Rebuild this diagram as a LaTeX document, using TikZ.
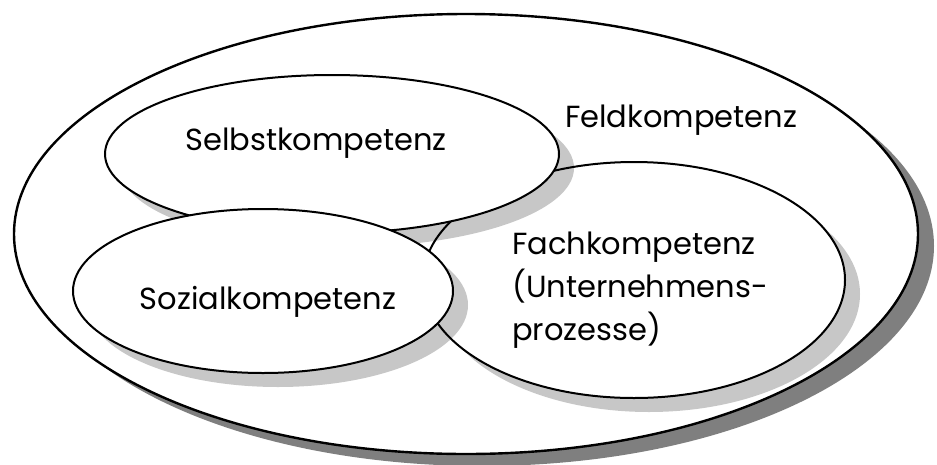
\documentclass[tikz,border=0pt]{standalone}
\usepackage{fontspec}
\setmainfont{Poppins}
\usetikzlibrary{shapes.geometric,shadows}

\begin{document}
\begin{tikzpicture}[x=1pt,y=-1pt,
    field node/.style={ellipse,draw,line width=2.4pt,fill=white,inner sep=0pt,
        drop shadow={shadow xshift=16pt,shadow yshift=-12pt,fill=black,opacity=0.5}},
    comp node/.style={ellipse,draw,line width=2pt,fill=white,inner sep=0pt,
        drop shadow={shadow xshift=15pt,shadow yshift=-14pt,fill=black,opacity=0.22}},
    text node/.style={inner sep=0pt,font=\fontsize{30.5}{43}\selectfont}]
        \useasboundingbox (0,0) rectangle (937,464);

        \node[field node,minimum width=904pt,minimum height=440pt] at (466,234) (feld) {};
        \node[comp node,minimum width=422pt,minimum height=236pt] at (634,280) (fach) {};
        \node[comp node,minimum width=454pt,minimum height=158pt] at (332,154) (selbst) {};
        \node[comp node,minimum width=380pt,minimum height=164pt] at (263,291) (sozial) {};

        \node[text node] at (681,120) (feldtext) {Feldkompetenz};
        \node[text node] at (316,143) (selbsttext) {Selbstkompetenz};
        \node[text node] at (268,302) (sozialtext) {Sozialkompetenz};
        \node[text node,align=left,anchor=north west] at (512,232) (fachtext)
            {Fachkompetenz\\(Unternehmens-\\prozesse)};
\end{tikzpicture}
\end{document}
